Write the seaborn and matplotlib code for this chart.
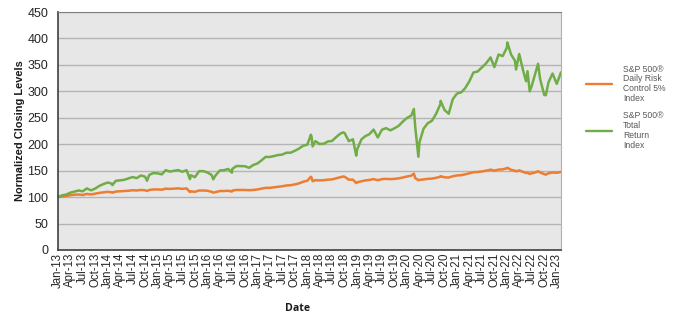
import matplotlib
matplotlib.use("Agg")
import matplotlib.pyplot as plt
import matplotlib.dates as mdates
import pandas as pd
import seaborn as sns

dates = [
    "2013-01-01", "2013-01-31", "2013-02-28", "2013-03-31", "2013-04-30", "2013-05-31", "2013-06-30",
    "2013-07-31", "2013-08-31", "2013-09-30", "2013-10-31", "2013-11-30", "2013-12-31",
    "2014-01-31", "2014-02-03", "2014-02-28", "2014-03-31", "2014-04-30", "2014-05-31", "2014-06-30",
    "2014-07-31", "2014-08-31", "2014-09-30", "2014-10-15", "2014-10-31", "2014-11-30", "2014-12-31",
    "2015-01-31", "2015-02-28", "2015-03-31", "2015-04-30", "2015-05-31", "2015-06-30", "2015-07-31",
    "2015-08-25", "2015-08-31", "2015-09-30", "2015-10-31", "2015-11-30", "2015-12-31",
    "2016-01-31", "2016-02-11", "2016-02-29", "2016-03-31", "2016-04-30", "2016-05-31", "2016-06-27",
    "2016-06-30", "2016-07-31", "2016-08-31", "2016-09-30", "2016-10-31", "2016-11-30", "2016-12-31",
    "2017-01-31", "2017-02-28", "2017-03-31", "2017-04-30", "2017-05-31", "2017-06-30", "2017-07-31",
    "2017-08-31", "2017-09-30", "2017-10-31", "2017-11-30", "2017-12-31",
    "2018-01-26", "2018-01-31", "2018-02-08", "2018-02-28", "2018-03-31", "2018-04-30", "2018-05-31",
    "2018-06-30", "2018-07-31", "2018-08-31", "2018-09-20", "2018-09-30", "2018-10-31", "2018-11-30",
    "2018-12-24", "2018-12-31",
    "2019-01-31", "2019-02-28", "2019-03-31", "2019-04-30", "2019-05-31", "2019-06-30", "2019-07-31",
    "2019-08-31", "2019-09-30", "2019-10-31", "2019-11-30", "2019-12-31",
    "2020-01-31", "2020-02-19", "2020-02-29", "2020-03-23", "2020-03-31", "2020-04-30", "2020-05-31",
    "2020-06-30", "2020-07-31", "2020-08-31", "2020-09-02", "2020-09-30", "2020-10-31", "2020-11-30",
    "2020-12-31",
    "2021-01-31", "2021-02-28", "2021-03-31", "2021-04-30", "2021-05-31", "2021-06-30", "2021-07-31",
    "2021-08-31", "2021-09-02", "2021-09-30", "2021-10-31", "2021-11-30", "2021-12-31",
    "2022-01-03", "2022-01-31", "2022-02-28", "2022-03-08", "2022-03-31", "2022-04-30", "2022-05-20",
    "2022-05-31", "2022-06-16", "2022-06-30", "2022-07-31", "2022-08-16", "2022-08-31", "2022-09-30",
    "2022-10-12", "2022-10-31", "2022-11-30", "2022-12-31", "2023-01-31",
]

total_return = [
    100, 103.4, 104.6, 108.3, 110.3, 112.6, 110.9,
    116.4, 112.8, 116.1, 121.3, 124.7, 127.6,
    125.4, 122.6, 130.8, 131.7, 132.6, 135.4, 137.9,
    135.9, 140.9, 138.8, 131.0, 142.0, 145.5, 144.9,
    143.0, 150.9, 148.3, 149.6, 151.1, 147.9, 150.9,
    133.9, 141.4, 137.7, 149.1, 149.1, 146.6,
    141.8, 133.6, 141.2, 150.5, 150.9, 153.2, 146.2,
    153.4, 158.8, 158.6, 158.4, 155.4, 160.7, 163.6,
    169.7, 176.0, 175.9, 177.5, 179.6, 180.4, 183.9,
    184.0, 187.5, 191.7, 197.1, 199.1,
    218.0, 214.3, 195.8, 205.9, 200.4, 200.9, 205.2,
    206.2, 213.7, 220.2, 222.4, 221.1, 205.8, 209.4,
    178.4, 190.2,
    209.1, 215.2, 219.1, 227.7, 212.8, 227.4, 230.4,
    226.2, 230.1, 234.8, 242.8, 249.8,
    254.1, 266.7, 232.7, 176.2, 203.6, 229.4, 239.8,
    244.2, 257.7, 275.7, 282.0, 264.9, 257.6, 285.3,
    295.9,
    298.1, 305.9, 318.9, 335.6, 337.5, 345.0, 352.8,
    363.1, 364.2, 345.8, 369.6, 366.6, 382.6,
    392.4, 369.4, 357.8, 341.2, 370.6, 338.0, 319.1,
    338.0, 300.0, 309.6, 337.8, 352.1, 323.5, 293.3,
    292.6, 316.7, 333.7, 314.1, 336.0,
]

risk_control = [
    100, 101.5, 102, 103.5, 104.5, 105, 104,
    106, 105, 106.5, 108, 109, 110,
    109, 108.3, 110.5, 111, 111.5, 112, 113,
    112.5, 113.5, 113, 111.5, 113.5, 114.5, 114.5,
    114, 116, 115.5, 116, 116.5, 115.5, 116.5,
    109.5, 111, 110, 112.5, 112.5, 112,
    110, 108.5, 109.5, 111.5, 111.5, 112, 110.5,
    112.5, 113.5, 113.5, 113.5, 113, 113.5, 114.5,
    116, 117.5, 117.5, 118.5, 119.5, 120.5, 122,
    122.5, 124, 126, 129, 131,
    138.5, 137, 130, 132, 131.5, 132, 133,
    133.5, 135.5, 137.5, 139, 138.5, 133, 133,
    126.5, 128,
    130, 131.5, 132.5, 134, 132, 134, 134.5,
    134, 134.5, 135.5, 137, 139,
    140.5, 144.5, 136, 132, 132.5, 133.5, 134.5,
    135, 136.5, 138.5, 139.5, 137.5, 137, 139.5,
    141,
    141.5, 143, 145, 147, 147.5, 148.5, 150,
    151.5, 152, 150, 152, 152.5, 154.5,
    155.5, 151.5, 150, 148.5, 150.5, 147.5, 145.5,
    146, 144, 145, 147, 149, 146.5, 143.5,
    142.5, 145, 146.5, 146, 147.5,
]

series_names = ["S&P 500\u00ae\nDaily Risk\nControl 5%\nIndex",
                "S&P 500\u00ae\nTotal\nReturn\nIndex"]
series_colors = ["#ED7D31", "#70AD47"]
y_ticks = [0, 50, 100, 150, 200, 250, 300, 350, 400, 450]

df = pd.concat([
    pd.DataFrame({"Date": pd.to_datetime(dates), "Value": risk_control, "Series": series_names[0]}),
    pd.DataFrame({"Date": pd.to_datetime(dates), "Value": total_return, "Series": series_names[1]}),
])

sns.set_style("white")
plt.rcParams["font.family"] = ["Liberation Sans", "DejaVu Sans"]

fig = plt.figure(figsize=(6.8, 3.23), dpi=100)
ax = fig.add_axes([58 / 680, 1 - 250 / 323, (561 - 58) / 680, (250 - 12) / 323])
ax.set_facecolor("#e7e7e7")

sns.lineplot(data=df, x="Date", y="Value", hue="Series", palette=series_colors,
             hue_order=series_names, linewidth=1.8, ax=ax, legend=True)

ax.set_ylim(0, 450)
ax.set_yticks(y_ticks)
ax.set_xlim(pd.Timestamp("2013-01-01"), pd.Timestamp("2023-01-31"))
ax.xaxis.set_major_locator(mdates.MonthLocator(bymonth=[1, 4, 7, 10]))
ax.xaxis.set_major_formatter(mdates.DateFormatter("%b-%y"))
ax.grid(axis="y", color="#b4b4b4", linewidth=1)
ax.set_axisbelow(True)

ax.tick_params(axis="y", length=0, pad=7, labelsize=9, labelcolor="#262626")
ax.tick_params(axis="x", length=0, pad=2, labelsize=8.3, labelcolor="#262626", rotation=90)

for side in ["left", "bottom"]:
    ax.spines[side].set_color("#404040")
    ax.spines[side].set_linewidth(1.2)
ax.spines["top"].set_color("#808080")
ax.spines["right"].set_color("#b0b0b0")

ax.set_ylabel("Normalized Closing Levels", fontsize=7.9, fontweight="bold", color="#1a1a1a")
ax.yaxis.set_label_coords(-0.065, 0.5)
ax.set_xlabel("Date", fontsize=7.6, fontweight="bold", color="#1a1a1a", family=["Open Sans", "DejaVu Sans"])
ax.xaxis.set_label_coords((298 - 58) / 503, (250 - 303) / 238)

handles, labels = ax.get_legend_handles_labels()
leg = ax.legend(handles, labels, loc="upper left", bbox_to_anchor=(578 / 680, 1 - 57 / 323),
                bbox_transform=fig.transFigure, frameon=False, fontsize=6.2,
                handlelength=3.1, handletextpad=1.2, labelspacing=1.0, labelcolor="#595959")
for t in leg.get_texts():
    t.set_linespacing(1.1)
for line in leg.get_lines():
    line.set_linewidth(1.7)

fig.savefig("out.png", dpi=100)
